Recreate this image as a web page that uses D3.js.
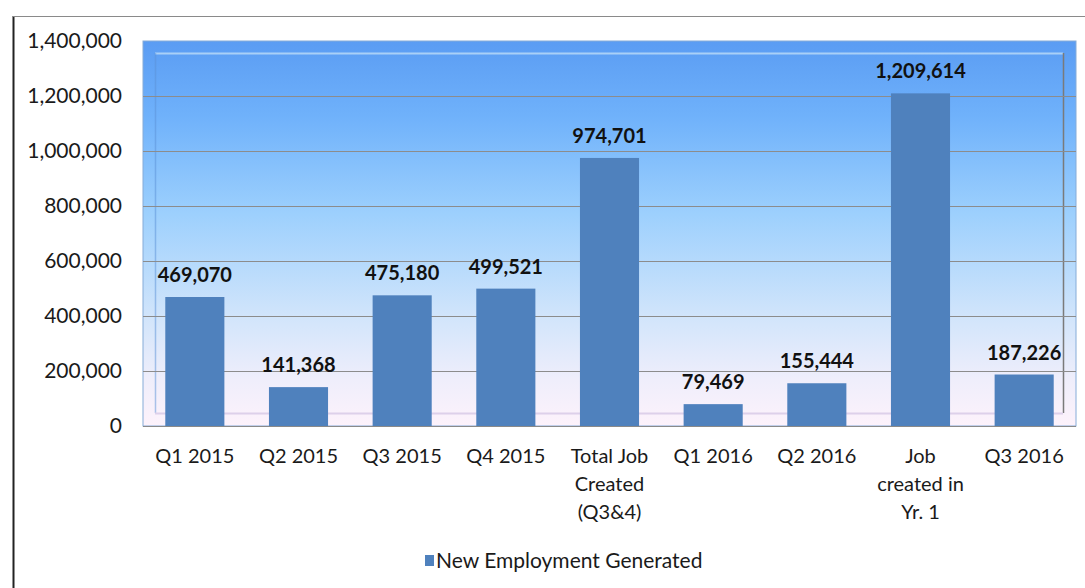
<!DOCTYPE html>
<html>
<head>
<meta charset="utf-8">
<script src="https://cdn.jsdelivr.net/npm/d3@7"></script>
<style>
  html, body { margin: 0; padding: 0; background: #fff; }
  svg { display: block; font-family: Lato, "Open Sans", sans-serif; }
</style>
</head>
<body>
<svg id="chart" width="1085" height="588"></svg>
<script>
const categories = ["Q1 2015", "Q2 2015", "Q3 2015", "Q4 2015", "Total Job\nCreated\n(Q3&4)", "Q1 2016", "Q2 2016", "Job\ncreated in\nYr. 1", "Q3 2016"];
const values = [469070, 141368, 475180, 499521, 974701, 79469, 155444, 1209614, 187226];
const yTicks = [0, 200000, 400000, 600000, 800000, 1000000, 1200000, 1400000];
const seriesName = "New Employment Generated";

const svg = d3.select("#chart");
const plot = { left: 143, right: 1076, top: 41, bottom: 426 };

const x = d3.scaleBand().domain(categories).range([plot.left, plot.right]).paddingInner(0.43).paddingOuter(0.215);
const y = d3.scaleLinear().domain([0, 1400000]).range([plot.bottom, plot.top]);

// outer frame lines
svg.append("line").attr("x1", 13.5).attr("x2", 13.5).attr("y1", 16).attr("y2", 588).attr("stroke", "#222").attr("stroke-width", 2);
svg.append("line").attr("x1", 13).attr("x2", 1085).attr("y1", 16.5).attr("y2", 16.5).attr("stroke", "#8a8a8a").attr("stroke-width", 1);

// gradient background
const defs = svg.append("defs");
const grad = defs.append("linearGradient").attr("id", "bg").attr("x1", 0).attr("y1", 0).attr("x2", 0).attr("y2", 1);
[[0, "#5a9cf3"], [0.2, "#70b2fb"], [0.45, "#9dd0fd"], [0.72, "#d2e5fb"], [0.88, "#efeefb"], [1, "#fdf2fb"]]
  .forEach(([o, c]) => grad.append("stop").attr("offset", o).attr("stop-color", c));

svg.append("rect").attr("x", plot.left).attr("y", plot.top)
  .attr("width", plot.right - plot.left).attr("height", plot.bottom - plot.top)
  .attr("fill", "url(#bg)").attr("stroke", "#86acd8").attr("stroke-width", 1);

// inner wall (3D effect)
const inner = { left: 155, right: 1063, top: 53, bottom: 413 };
svg.append("line").attr("x1", inner.left).attr("x2", inner.right).attr("y1", inner.top + 0.5).attr("y2", inner.top + 0.5).attr("stroke", "#a9d0f7").attr("stroke-width", 2);
svg.append("line").attr("x1", inner.left + 0.5).attr("x2", inner.left + 0.5).attr("y1", inner.top).attr("y2", inner.bottom).attr("stroke", "#5c92d8").attr("stroke-width", 1.5).attr("opacity", 0.5);
svg.append("line").attr("x1", inner.right + 0.5).attr("x2", inner.right + 0.5).attr("y1", inner.top).attr("y2", inner.bottom).attr("stroke", "#7a7a7a").attr("stroke-width", 1.5);
svg.append("line").attr("x1", inner.left).attr("x2", inner.right).attr("y1", inner.bottom + 0.5).attr("y2", inner.bottom + 0.5).attr("stroke", "#ddd0ea").attr("stroke-width", 2);

// gridlines
svg.append("g").selectAll("line").data(yTicks.filter(d => d > 0 && d < 1400000)).join("line")
  .attr("x1", plot.left).attr("x2", plot.right)
  .attr("y1", d => Math.round(y(d)) + 0.5).attr("y2", d => Math.round(y(d)) + 0.5)
  .attr("stroke", "#8c8c8c").attr("stroke-width", 1);

// bars
svg.append("g").selectAll("rect").data(values).join("rect")
  .attr("x", (d, i) => x(categories[i]))
  .attr("y", d => y(d))
  .attr("width", x.bandwidth())
  .attr("height", d => plot.bottom - y(d))
  .attr("fill", "#4f81bd");

// baseline axis line
svg.append("line").attr("x1", plot.left).attr("x2", plot.right).attr("y1", plot.bottom + 0.5).attr("y2", plot.bottom + 0.5).attr("stroke", "#8a8a8a");

// data labels
svg.append("g").selectAll("text").data(values).join("text")
  .attr("x", (d, i) => x(categories[i]) + x.bandwidth() / 2)
  .attr("y", d => y(d) - 15)
  .attr("text-anchor", "middle")
  .attr("font-size", 20).attr("font-weight", "bold").attr("fill", "#111")
  .text(d => d3.format(",")(d));

// y axis
const yAxis = svg.append("g").attr("transform", `translate(${plot.left},0)`)
  .call(d3.axisLeft(y).tickValues(yTicks).tickFormat(d3.format(",")).tickSize(0).tickPadding(21));
yAxis.select(".domain").remove();
yAxis.selectAll("text").attr("font-size", 21).attr("font-family", "Lato, sans-serif").attr("fill", "#1a1a1a");

// x axis
const xAxis = svg.append("g").attr("transform", `translate(0,${plot.bottom})`)
  .call(d3.axisBottom(x).tickSize(0).tickFormat(""));
xAxis.select(".domain").remove();
xAxis.selectAll(".tick").each(function(d) {
  const lines = d.split("\n");
  const t = d3.select(this).append("text")
    .attr("text-anchor", "middle").attr("font-size", 20).attr("font-family", "Lato, sans-serif").attr("fill", "#1a1a1a");
  lines.forEach((ln, i) => t.append("tspan").attr("x", 0).attr("y", 37 + i * 28).text(ln));
});

// legend
const legend = svg.append("g").attr("transform", "translate(425,555)");
legend.append("rect").attr("x", 0).attr("y", 0).attr("width", 9).attr("height", 11).attr("fill", "#4f81bd");
legend.append("text").attr("x", 11).attr("y", 13).attr("font-size", 21).attr("fill", "#1a1a1a").text(seriesName);
</script>
</body>
</html>
